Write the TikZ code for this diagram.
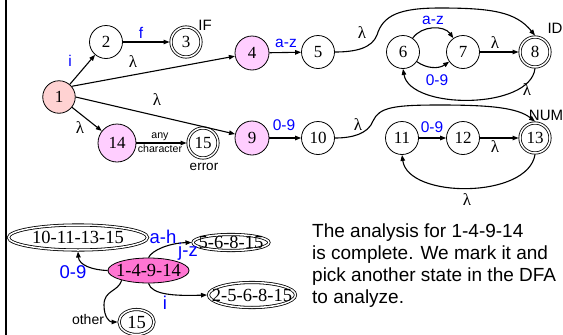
\documentclass[tikz,border=0pt]{standalone}
\usepackage{fontspec}
\setmainfont{Liberation Serif}
\newfontfamily\sansfont{Liberation Sans}
\usetikzlibrary{arrows.meta,shapes.geometric}

\definecolor{lblue}{RGB}{0,0,255}
\definecolor{startpink}{RGB}{255,210,210}
\definecolor{lavpink}{RGB}{255,206,255}
\definecolor{dfapink}{RGB}{255,117,210}

\begin{document}
\begin{tikzpicture}[x=1pt,y=-1pt,
  st/.style={circle, draw, line width=0.8pt, minimum size=33pt, inner sep=0pt,
             font=\fontsize{17}{17}\selectfont},
  acc/.style={st, double, double distance=1.5pt, minimum size=30pt, outer sep=1.5pt},
  dst/.style={ellipse, draw, line width=0.8pt, inner sep=0pt},
  dacc/.style={dst, double, double distance=1.5pt, outer sep=1.5pt},
  dlabel/.style={font=\fontsize{18.5}{18.5}\selectfont, inner sep=0pt},
  tr/.style={line width=1.1pt, -{Triangle[length=6pt,width=4.5pt]}},
  lam/.style={font=\fontsize{17}{17}\selectfont, inner sep=0pt},
  bl/.style={text=lblue, font=\sansfont\fontsize{15.5}{15.5}\selectfont, inner sep=0pt},
  bbl/.style={text=lblue, font=\sansfont\fontsize{18.5}{18.5}\selectfont, inner sep=0pt},
  tag/.style={font=\sansfont\fontsize{15}{15}\selectfont, inner sep=0pt},
  para/.style={font=\sansfont\fontsize{19}{22}\selectfont, inner sep=0pt, anchor=base west}
]
\useasboundingbox (0,0) rectangle (563,335);

% frame edge on the left
\draw[line width=2pt] (6,0) -- (6,335);

% ---------------- NFA ----------------
\node[st, fill=startpink, minimum size=32.5pt] (n1) at (59,97) {1};
\node[st] (n2) at (106,42) {2};
\node[acc] (n3) at (186,42) {3};
\node[tag] (tIF) at (205,25) {IF};
\node[st, fill=lavpink, minimum size=34pt] (n4) at (252,53) {4};
\node[st] (n5) at (318,52) {5};
\node[st] (n6) at (403,52) {6};
\node[st] (n7) at (463,52) {7};
\node[acc] (n8) at (535,52) {8};
\node[tag] (tID) at (555,28) {ID};
\node[st, fill=lavpink, minimum size=34pt] (n9) at (252,138) {9};
\node[st] (n10) at (318,138) {10};
\node[st] (n11) at (402,138) {11};
\node[st] (n12) at (463,138) {12};
\node[acc] (n13) at (535,138) {13};
\node[tag] (tNUM) at (546,115) {NUM};
\node[st, fill=lavpink, minimum size=38pt] (n14) at (117,143) {14};
\node[acc] (n15) at (203,143) {15};
\node[tag, font=\sansfont\fontsize{13.5}{13.5}\selectfont] (terr) at (204,167) {error};

\draw[tr] (n1) -- (n2);
\node[bl] (li) at (70,61) {i};
\draw[tr] (n2) -- (n3);
\node[bl] (lf) at (141,33) {f};
\draw[tr] (n1.40) -- (n4);
\node[lam] (l14) at (133,62) {λ};
\draw[tr] (n1.east) -- (n9);
\node[lam] (l19) at (157,100) {λ};
\draw[tr] (n1) -- (n14);
\node[lam] (l114) at (80,128) {λ};
\draw[tr] (n14) -- (n15);
\node[font=\sansfont\fontsize{10.6}{10.6}\selectfont, inner sep=0pt] (lany) at (160,137) {any};
\node[font=\sansfont\fontsize{10.6}{10.6}\selectfont, inner sep=0pt] (lchar) at (160,149) {character};

\draw[tr] (n4) -- (n5);
\node[bl] (l45) at (286,43) {a-z};
\draw[tr] (n5.east) .. controls (356,52) and (372,48) .. (377,35)
          .. controls (383,15) and (400,8) .. (440,8)
          .. controls (492,8) and (516,12) .. (n8.north);
\node[lam] (l58) at (362,33) {λ};
\draw[tr] (n6) to[out=55,in=125] (n7);
\node[bl] (l67a) at (433,20) {a-z};
\draw[tr] (n6) to[out=-35,in=-145] (n7);
\node[bl] (l67b) at (437,80) {0-9};
\draw[tr] (n7) -- (n8);
\node[lam] (l78) at (495,43) {λ};
\draw[tr] (n8.south) .. controls (530,110) and (410,110) .. (n6.south);
\node[lam] (l86) at (527,90) {λ};

\draw[tr] (n9) -- (n10);
\node[bl] (l910) at (284,125) {0-9};
\draw[tr] (n10.east) .. controls (352,138) and (368,134) .. (373,121)
          .. controls (379,107) and (395,105) .. (440,105)
          .. controls (492,105) and (518,108) .. (n13.north);
\node[lam] (l1013) at (358,125) {λ};
\draw[tr] (n11) -- (n12);
\node[bl] (l1112) at (432,127) {0-9};
\draw[tr] (n12) -- (n13);
\node[lam] (l1213) at (495,147) {λ};
\draw[tr] (n13.south) .. controls (528,199) and (408,199) .. (n11.south);
\node[lam] (l1311) at (467,200) {λ};

% ---------------- DFA ----------------
\node[dacc, minimum width=139pt, minimum height=25pt,
      label={[dlabel]center:10-11-13-15}] (e1) at (78,237.5) {};
\node[dst, fill=dfapink, minimum width=81pt, minimum height=25pt,
      label={[dlabel]center:1-4-9-14}] (d1) at (148.5,270.5) {};
\node[dacc, minimum width=76pt, minimum height=16pt,
      label={[dlabel]center:5-6-8-15}] (e3) at (231,242.5) {};
\node[dacc, minimum width=87pt, minimum height=25pt,
      label={[dlabel]center:2-5-6-8-15}] (e4) at (252,295) {};
\node[dacc, minimum width=35pt, minimum height=25pt,
      label={[dlabel]center:15}] (s15) at (136.5,322) {};

\draw[tr] (d1.west) .. controls (92,270) and (79,265) .. (e1.south);
\node[bbl] (m09) at (73,272) {0-9};
\draw[tr] (d1.north) .. controls (152,250) and (170,243) .. (e3.west);
\node[bbl] (mah) at (163,237) {a-h};
\node[bbl] (mjz) at (188,252) {j-z};
\draw[tr] (d1.south) .. controls (152,295) and (175,296) .. (e4.west);
\node[bbl] (mi) at (165,303) {i};
\draw[tr] (d1.200) .. controls (118,292) and (104,290) .. (104,305)
          .. controls (104,318) and (110,322) .. (s15.west);
\node[font=\sansfont\fontsize{14}{14}\selectfont, inner sep=0pt] (mother) at (88,319) {other};

% ---------------- note ----------------
\node[para] (p1) at (312,237) {The analysis for 1-4-9-14};
\node[para] (p2) at (312,259) {is complete. We mark it and};
\node[para] (p3) at (312,281) {pick another state in the DFA};
\node[para] (p4) at (312,303) {to analyze.};
\end{tikzpicture}
\end{document}
